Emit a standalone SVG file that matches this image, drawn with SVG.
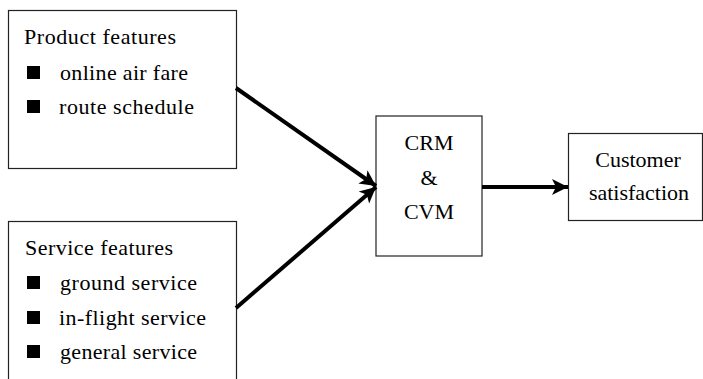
<svg xmlns="http://www.w3.org/2000/svg" width="703" height="379" viewBox="0 0 703 379">
<defs>
<style>
.box{fill:#fff;stroke:#222;stroke-width:1.2}
.t{font-size:22px;fill:#000}
.c{text-anchor:middle}
.b{fill:#000}
.con{stroke:#000;stroke-width:4;fill:none}
</style>
<marker id="ah" markerUnits="userSpaceOnUse" markerWidth="20" markerHeight="20" refX="16" refY="8" orient="auto" viewBox="0 0 20 16">
<path d="M0,0 L16,8 L0,16 L4,8 Z" fill="#000"/>
</marker>
</defs>
<rect width="703" height="379" fill="#fff"/>
<g font-family="Liberation Serif, Times New Roman, DejaVu Serif, serif">
<g id="product">
<rect class="box" x="8.5" y="10.5" width="228" height="158"/>
<text class="t" x="24" y="44" textLength="152">Product features</text>
<rect class="b" x="27" y="66" width="13" height="13"/>
<text class="t" x="60" y="80" textLength="128">online air fare</text>
<rect class="b" x="27" y="100" width="13" height="13"/>
<text class="t" x="59" y="114" textLength="135">route schedule</text>
</g>
<g id="service">
<rect class="box" x="8.5" y="221.5" width="228" height="170"/>
<text class="t" x="25" y="255" textLength="148">Service features</text>
<rect class="b" x="27" y="276" width="13" height="13"/>
<text class="t" x="60" y="290" textLength="137">ground service</text>
<rect class="b" x="27" y="311" width="13" height="13"/>
<text class="t" x="59" y="325" textLength="147">in-flight service</text>
<rect class="b" x="27" y="345" width="13" height="13"/>
<text class="t" x="60" y="359" textLength="137">general service</text>
</g>
<g id="crm">
<rect class="box" x="376" y="116" width="106" height="140"/>
<text class="t c" x="429" y="150">CRM</text>
<text class="t c" x="429" y="185">&amp;</text>
<text class="t c" x="429" y="219">CVM</text>
</g>
<g id="customer">
<rect class="box" x="568.5" y="133.5" width="134" height="87"/>
<text class="t c" x="638" y="167">Customer</text>
<text class="t c" x="639" y="200">satisfaction</text>
</g>
</g>
<g id="connectors">
<line class="con" x1="236" y1="88" x2="376" y2="186" marker-end="url(#ah)"/>
<line class="con" x1="236" y1="308" x2="376" y2="187" marker-end="url(#ah)"/>
<line class="con" x1="482" y1="187" x2="568" y2="187" marker-end="url(#ah)"/>
</g>
</svg>
